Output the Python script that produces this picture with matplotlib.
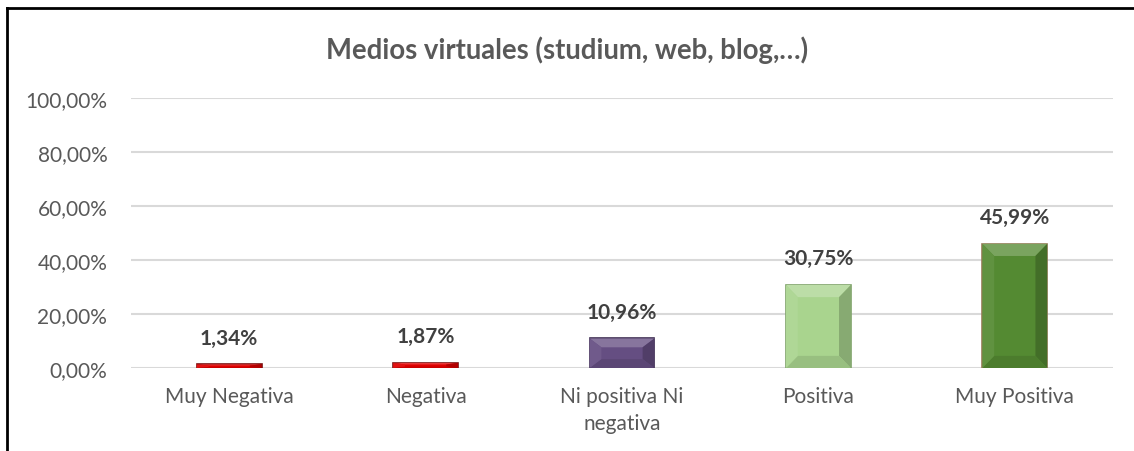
import matplotlib.pyplot as plt
from matplotlib.patches import Polygon
import matplotlib.colors as mcolors
import numpy as np

# datos
categorias = ['Muy Negativa', 'Negativa', 'Ni positiva Ni\nnegativa', 'Positiva', 'Muy Positiva']
valores = [1.34, 1.87, 10.96, 30.75, 45.99]
etiquetas = ['1,34%', '1,87%', '10,96%', '30,75%', '45,99%']
colores = ['#E00000', '#E00000', '#654E82', '#A9D48E', '#548A32']
bordes = ['#7A1010', '#7A1010', '#3E2E52', '#7FA36A', '#9A7B5A']
yticks = [0, 20, 40, 60, 80, 100]

plt.rcParams['font.family'] = ['Lato', 'DejaVu Sans']

fig = plt.figure(figsize=(11.34, 4.52), dpi=100)
ax = fig.add_axes([0.1155, 0.1836, 0.866, 0.5974])

x = np.arange(len(categorias))
ancho = 0.33
ax.bar(x, valores, width=ancho, color=colores, edgecolor=bordes, linewidth=1.2, zorder=3)


def ajustar(c, f):
    r, g, b = mcolors.to_rgb(c)
    if f > 1:
        return (r + (1 - r) * (f - 1), g + (1 - g) * (f - 1), b + (1 - b) * (f - 1))
    return (r * f, g * f, b * f)


# bisel tipo Excel
bx = 0.06
for xi, v, c in zip(x, valores, colores):
    by = min(v * 0.3, 4.5)
    dx = min(bx, ancho / 2)
    l, r = xi - ancho / 2, xi + ancho / 2
    caras = [
        ([(l, v), (r, v), (r - dx, v - by), (l + dx, v - by)], 1.22),
        ([(r, v), (r, 0), (r - dx, by), (r - dx, v - by)], 0.8),
        ([(l, 0), (r, 0), (r - dx, by), (l + dx, by)], 0.9),
        ([(l, v), (l, 0), (l + dx, by), (l + dx, v - by)], 1.07),
    ]
    for pts, f in caras:
        ax.add_patch(Polygon(pts, closed=True, facecolor=ajustar(c, f),
                             edgecolor='none', zorder=4))

for xi, v, t in zip(x, valores, etiquetas):
    ax.annotate(t, (xi, v), xytext=(0, 12), textcoords='offset points',
                ha='center', va='bottom', fontsize=15, fontweight='bold',
                color='#404040', zorder=5)

ax.set_ylim(0, 100)
ax.set_xlim(-0.5, len(categorias) - 0.5)
ax.set_yticks(yticks)
ax.set_yticklabels([f'{t},00%' for t in yticks])
ax.set_xticks(x)
ax.set_xticklabels(categorias, linespacing=1.45)
ax.tick_params(length=0, labelsize=15, labelcolor='#595959')
ax.tick_params(axis='y', pad=17)
ax.tick_params(axis='x', pad=13)
ax.grid(axis='y', color='#D9D9D9', linewidth=1.5, zorder=0)
for s in ax.spines.values():
    s.set_visible(False)

fig.text(0.5, 0.888, 'Medios virtuales (studium, web, blog,…)', ha='center',
         va='center', fontsize=19.8, fontweight='bold', color='#595959')

# marco de la imagen (solo arriba e izquierda visibles)
fig.add_artist(plt.Line2D([0.0066, 1.0], [0.979, 0.979], color='black', linewidth=2))
fig.add_artist(plt.Line2D([0.0066, 0.0066], [0.0, 0.979], color='black', linewidth=2))

plt.savefig('out.png', dpi=100)
